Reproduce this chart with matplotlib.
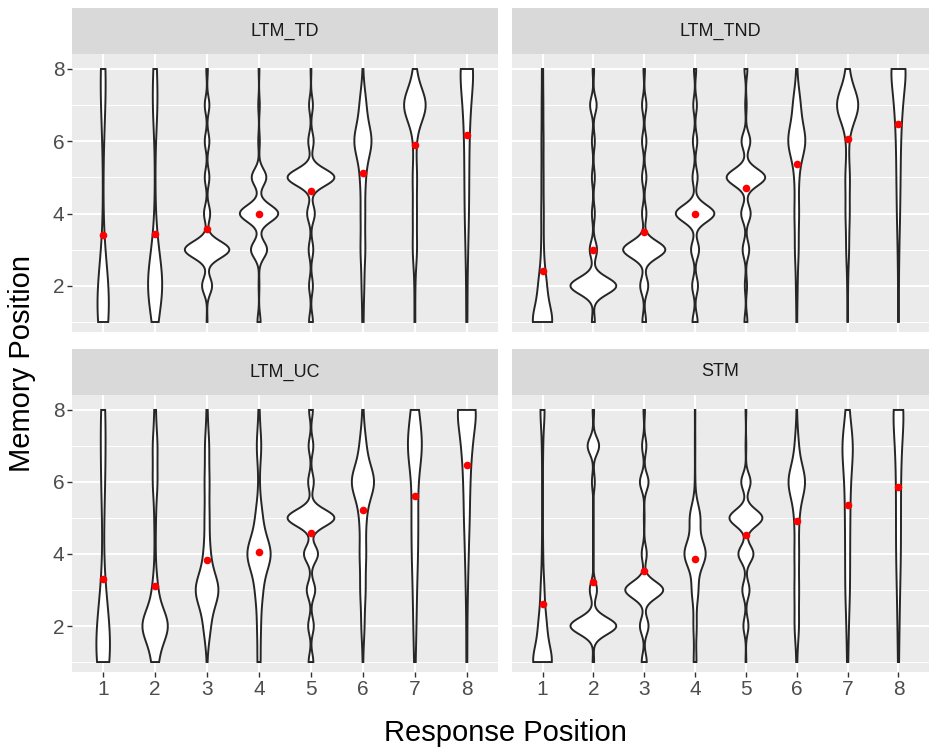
import numpy as np
import matplotlib
matplotlib.use("Agg")
import matplotlib.pyplot as plt

plt.rcParams['font.family'] = ['Liberation Sans', 'DejaVu Sans']

PANELS = ["LTM_TD", "LTM_TND", "LTM_UC", "STM"]
RESPONSE_POS = [1, 2, 3, 4, 5, 6, 7, 8]
MEMORY_POS = [1, 2, 3, 4, 5, 6, 7, 8]
TRIALS = 200  # trials per response position

# percent of trials at memory position 1..8 (columns), one row per response position
ltm_td = [
    [33, 30, 5, 1, 1, 3, 11, 16],
    [10, 48, 14, 2, 1, 2, 14, 9],
    [1, 13, 58, 8, 6, 6, 6, 2],
    [4, 1, 21, 50, 19, 2, 2, 1],
    [5, 5, 6, 10, 61, 7, 5, 1],
    [3, 6, 11, 10, 12, 42, 15, 1],
    [2, 2, 10, 9, 10, 6, 55, 6],
    [3, 3, 6, 10, 11, 12, 18, 37],
]
ltm_tnd = [
    [51, 20, 6, 6, 5, 5, 4, 3],
    [4, 63, 10, 4, 4, 4, 9, 2],
    [5, 11, 58, 6, 6, 6, 6, 2],
    [7, 8, 11, 53, 7, 6, 5, 3],
    [4, 3, 9, 13, 53, 12, 2, 4],
    [2, 4, 9, 11, 10, 44, 18, 2],
    [1, 2, 7, 10, 11, 5, 57, 7],
    [2, 2, 4, 8, 10, 12, 20, 42],
]
ltm_uc = [
    [32, 26, 9, 2, 4, 8, 9, 10],
    [12, 52, 10, 2, 3, 9, 9, 3],
    [1, 13, 46, 12, 9, 9, 8, 2],
    [6, 7, 14, 47, 13, 2, 9, 2],
    [5, 6, 9, 15, 50, 6, 5, 4],
    [1, 6, 10, 12, 12, 45, 12, 2],
    [3, 6, 8, 12, 13, 11, 32, 15],
    [2, 2, 4, 7, 11, 13, 20, 41],
]
stm = [
    [50, 20, 9, 3, 2, 2, 3, 11],
    [2, 64, 10, 1, 1, 4, 16, 2],
    [7, 12, 53, 7, 1, 12, 6, 2],
    [6, 7, 14, 47, 23, 1, 1, 1],
    [1, 7, 10, 21, 46, 13, 1, 1],
    [2, 11, 11, 11, 11, 44, 9, 1],
    [3, 6, 12, 12, 13, 15, 31, 8],
    [3, 5, 8, 12, 12, 12, 16, 32],
]
COUNTS = [ltm_td, ltm_tnd, ltm_uc, stm]

W, H = 931, 749
BG = "#EBEBEB"


def bw_nrd0(vals):
    # same rule as R's bw.nrd0 (ggplot2 default for violins)
    hi = vals.std(ddof=1)
    q75, q25 = np.percentile(vals, [75, 25])
    lo = min(hi, (q75 - q25) / 1.34)
    if lo == 0:
        lo = hi
    return 0.9 * lo * len(vals) ** -0.2


def violin_density(pct, grid):
    n = np.round(np.array(pct) * TRIALS / 100).astype(int)
    vals = np.repeat(MEMORY_POS, n).astype(float)
    bw = bw_nrd0(vals)
    z = (grid[:, None] - vals[None, :]) / bw
    dens = np.exp(-0.5 * z ** 2).sum(axis=1) / (len(vals) * bw * np.sqrt(2 * np.pi))
    return dens, vals.mean()


def px_axes(fig, x0, y0, x1, y1):
    return fig.add_axes([x0 / W, 1 - y1 / H, (x1 - x0) / W, (y1 - y0) / H])


fig = plt.figure(figsize=(W / 100, H / 100), dpi=100)

panel_boxes = [(72, 54, 498, 332), (512, 54, 929, 332),
               (72, 395, 498, 672), (512, 395, 929, 672)]
strip_h = 46

grid = np.linspace(1, 8, 512)
for i, (name, counts) in enumerate(zip(PANELS, COUNTS)):
    x0, y0, x1, y1 = panel_boxes[i]
    ax = px_axes(fig, x0, y0, x1, y1)
    ax.set_facecolor(BG)
    for s in ax.spines.values():
        s.set_visible(False)

    dens = []
    means = []
    for row in counts:
        d, m = violin_density(row, grid)
        dens.append(d)
        means.append(m)
    dmax = max(d.max() for d in dens)  # scale = "area"

    for r, d in zip(RESPONSE_POS, dens):
        half = 0.45 * d / dmax
        xs = np.concatenate([r - half, (r + half)[::-1]])
        ys = np.concatenate([grid, grid[::-1]])
        ax.fill(xs, ys, facecolor="white", edgecolor="#262626", linewidth=1.4,
                joinstyle="miter", zorder=3)
    ax.scatter(RESPONSE_POS, means, s=30, color="red", zorder=4, linewidths=0)

    ax.set_xlim(0.4, 8.6)
    ax.set_ylim(0.723, 8.415)
    ax.set_xticks(RESPONSE_POS)
    ax.set_yticks([2, 4, 6, 8])
    ax.set_yticks([1, 3, 5, 7], minor=True)
    ax.grid(True, which="major", color="white", linewidth=1.4, zorder=0)
    ax.grid(True, which="minor", axis="y", color="white", linewidth=0.7, zorder=0)
    ax.set_axisbelow(True)
    ax.tick_params(which="minor", length=0)
    ax.tick_params(which="major", length=3.5, width=1.0, color="#333333",
                   labelsize=15, labelcolor="#4D4D4D", pad=2)
    if i % 2 == 1:
        ax.tick_params(axis="y", length=0, labelleft=False)
    if i < 2:
        ax.tick_params(axis="x", length=0, labelbottom=False)

    sax = px_axes(fig, x0, y0 - strip_h, x1, y0)
    sax.set_facecolor("#D9D9D9")
    sax.set_xticks([])
    sax.set_yticks([])
    for s in sax.spines.values():
        s.set_visible(False)
    sax.text(0.5, 0.5, name, ha="center", va="center", fontsize=13, color="#1A1A1A",
             transform=sax.transAxes)

fig.text(505 / W, 1 - 733 / H, "Response Position", ha="center", va="center",
         fontsize=21, color="black")
fig.text(22 / W, 1 - 363 / H, "Memory Position", ha="center", va="center",
         rotation=90, fontsize=21, color="black")

fig.savefig("out.png", dpi=100, facecolor="white")
